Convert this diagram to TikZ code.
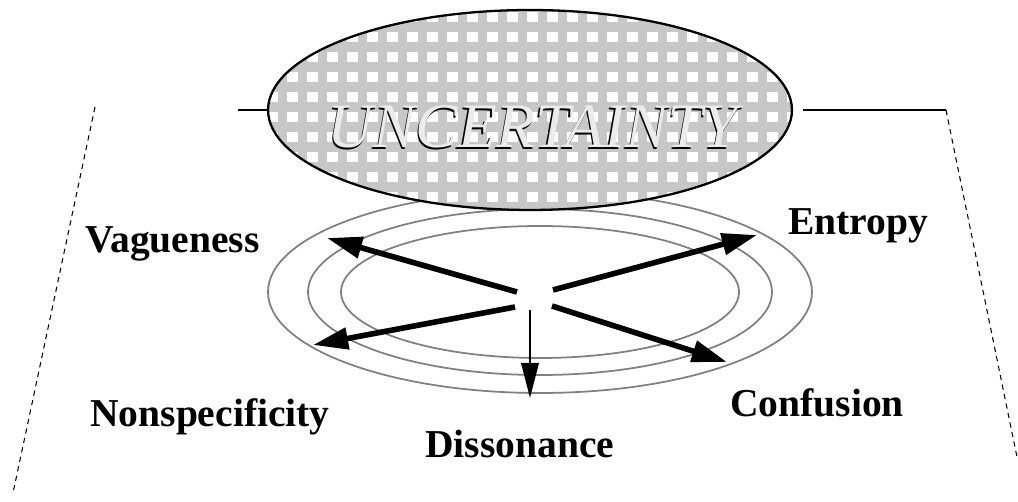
\documentclass[tikz,border=0pt]{standalone}
\usepackage{fontspec}
\setmainfont{Liberation Serif}
\usetikzlibrary{arrows.meta,shapes.geometric}

\begin{document}
\begin{tikzpicture}[
    x=0.02cm, y=-0.02cm,
    ring/.style={draw=black!50, line width=1pt},
    spoke/.style={line width=3.2pt, -{Triangle[length=20pt,width=12pt]}},
    thinspoke/.style={line width=1.2pt, -{Triangle[length=20pt,width=10pt]}},
    frame/.style={line width=0.6pt, dash pattern=on 3pt off 2.5pt},
    tag/.style={font=\fontsize{22.5}{26}\selectfont\bfseries, inner sep=0pt, anchor=base west},
    blob/.style={draw, ellipse, line width=1.3pt, minimum width=10.48cm,
                 minimum height=4cm, inner sep=0pt},
    title/.style={font=\fontsize{36}{40}\selectfont\itshape, inner sep=0pt, anchor=base}
]
    \useasboundingbox (0,0) rectangle (1018,502);

    % rings under the ellipse
    \draw[ring] (540,292) ellipse [x radius=272, y radius=101];
    \draw[ring] (540,292) ellipse [x radius=232, y radius=83];
    \draw[ring] (540,292) ellipse [x radius=199, y radius=66];

    % patterned ellipse
    \fill[black!22] (530,110) ellipse [x radius=262, y radius=100];
    \begin{scope}
        \clip (530,110) ellipse [x radius=262, y radius=100];
        \foreach \i in {0,...,26}
            \foreach \j in {0,...,10}
                \fill[white] ({266.5+20*\i},{12+20*\j}) rectangle ++(11,10);
    \end{scope}
    \node[blob] (unc) at (530,110) {};
    \node[title, text=black] (uncshade) at (531.5,149.5) {UNCERTAINTY};
    \node[title, text=black!8] (unctext) at (533,148) {UNCERTAINTY};

    % frame
    \coordinate (lstub) at (238,110);
    \coordinate (ltop) at (95,107);
    \coordinate (lbot) at (13,493);
    \coordinate (rstub) at (803,110);
    \coordinate (rtop) at (946,110);
    \coordinate (rbot) at (1017,457);
    \draw[line width=0.8pt] (unc.west) -- (lstub);
    \draw[line width=0.8pt] (rstub) -- (rtop);
    \draw[frame] (ltop) -- (lbot);
    \draw[frame] (rtop) -- (rbot);

    % spokes
    \coordinate (vagS) at (517,292);  \coordinate (vagT) at (327,238);
    \coordinate (nonS) at (515,307);  \coordinate (nonT) at (313,345);
    \coordinate (entS) at (553,290);  \coordinate (entT) at (757,235);
    \coordinate (conS) at (552,306);  \coordinate (conT) at (727,362);
    \coordinate (disS) at (530,310);  \coordinate (disT) at (530,398);
    \draw[spoke] (vagS) -- (vagT);
    \draw[spoke] (nonS) -- (nonT);
    \draw[spoke] (entS) -- (entT);
    \draw[spoke] (conS) -- (conT);
    \draw[thinspoke] (disS) -- (disT);

    \node[tag] (vag) at (85,253) {Vagueness};
    \node[tag] (non) at (90,427) {Nonspecificity};
    \node[tag] (ent) at (788,235) {Entropy};
    \node[tag] (con) at (730,417) {Confusion};
    \node[tag] (dis) at (425,458) {Dissonance};
\end{tikzpicture}
\end{document}
